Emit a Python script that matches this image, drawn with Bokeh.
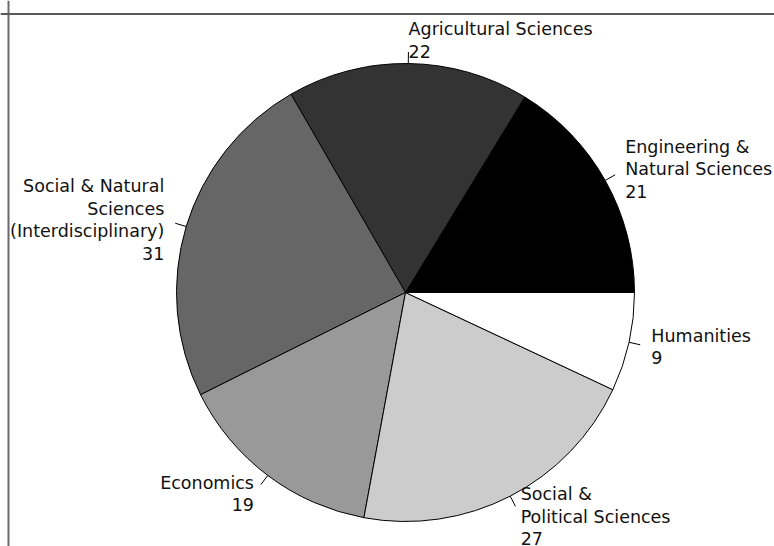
import numpy as np
from bokeh.plotting import figure
from bokeh.models import ColumnDataSource, Range1d, Span
from bokeh.core.properties import value
from bokeh.embed import file_html
from bokeh.resources import INLINE

# ---- data ----
labels = ["Engineering &\nNatural Sciences", "Agricultural Sciences",
          "Social & Natural\nSciences\n(Interdisciplinary)", "Economics",
          "Social &\nPolitical Sciences", "Humanities"]
counts = [21, 22, 31, 19, 27, 9]
colors = ["#000000", "#333333", "#666666", "#999999", "#CCCCCC", "#FFFFFF"]

# ---- geometry (pixel-like data units, pie centred at 0,0) ----
R = 229
vals = np.array(counts, dtype=float)
frac = np.concatenate([[0.0], np.cumsum(vals) / vals.sum()])
start = 2 * np.pi * frac[:-1]
end = 2 * np.pi * frac[1:]
mid = (start + end) / 2
cx, cy = np.cos(mid), np.sin(mid)

src = ColumnDataSource(dict(start=start, end=end, color=colors))
text_src = ColumnDataSource(dict(
    x=1.1 * R * cx, y=1.1 * R * cy,
    text=[f"{l}\n{c}" for l, c in zip(labels, counts)],
    align=["left" if v >= 0 else "right" for v in cx],
))
tick_src = ColumnDataSource(dict(
    xs=[[R * a, 1.05 * R * a] for a in cx],
    ys=[[R * b, 1.05 * R * b] for b in cy],
))

p = figure(width=774, height=546, output_backend="svg", toolbar_location=None,
           x_range=Range1d(-405, 369), y_range=Range1d(-254, 292),
           x_axis_location=None, y_axis_location=None,
           min_border=0, min_border_left=0, min_border_right=0,
           min_border_top=0, min_border_bottom=0)
p.grid.visible = False
p.outline_line_color = None
p.background_fill_color = "white"
p.border_fill_color = "white"

p.wedge(x=0, y=0, radius=R, start_angle="start", end_angle="end",
        fill_color="color", line_color="black", line_width=1, source=src)
p.multi_line(xs="xs", ys="ys", line_color="black", line_width=1, source=tick_src)
p.text(x="x", y="y", text="text", text_align="align", text_baseline="middle",
       text_font=value("DejaVu Sans"), text_font_size="17.5px",
       text_line_height=1.12, text_color="#111111", source=text_src)

# plot-region box (left and top sides visible in the window)
p.add_layout(Span(location=-397, dimension="height", line_color="#6a6a6a", line_width=2))
p.add_layout(Span(location=278.5, dimension="width", line_color="#5a5a5a", line_width=2))

open("out.html", "w").write(file_html(p, INLINE))
